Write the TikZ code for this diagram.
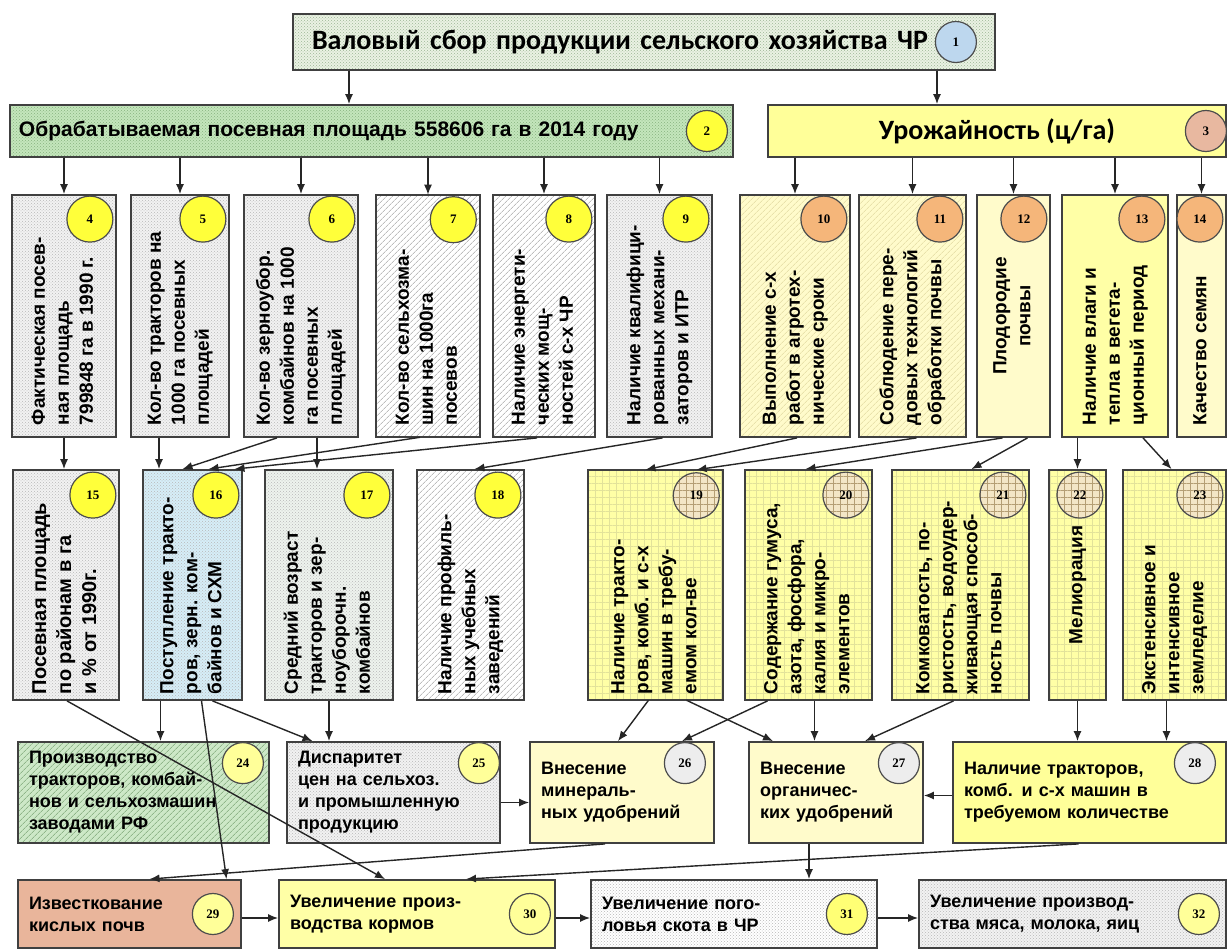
\documentclass[tikz,border=0pt]{standalone}
\usepackage{fontspec}
\setmainfont{Liberation Sans}
\newfontfamily\headfont{Carlito}
\newfontfamily\numfont{Liberation Serif}
\usetikzlibrary{arrows.meta,patterns,patterns.meta}
\definecolor{titlefill}{HTML}{EAF2E3}
\definecolor{titledots}{HTML}{9DB596}
\definecolor{areafill}{HTML}{C4E6BC}
\definecolor{areadots}{HTML}{86B27E}
\definecolor{yieldfill}{HTML}{FFFF99}
\definecolor{greyfill}{HTML}{F2F2F2}
\definecolor{bluefill}{HTML}{D6EEF8}
\definecolor{sagefill}{HTML}{EEF3EE}
\definecolor{creamfill}{HTML}{FFFBCB}
\definecolor{creamline}{HTML}{DCD49A}
\definecolor{lemonfill}{HTML}{FFFFA6}
\definecolor{lemonline}{HTML}{E2E29A}
\definecolor{mintfill}{HTML}{CDE8C7}
\definecolor{mintline}{HTML}{6E9A68}
\definecolor{salmonfill}{HTML}{E9B59B}
\definecolor{numblue}{HTML}{BDD7EE}
\definecolor{numyellow}{HTML}{FFFF3A}
\definecolor{numpale}{HTML}{FFFF99}
\definecolor{numsalmon}{HTML}{E8B8A0}
\definecolor{numorange}{HTML}{F5B67A}
\definecolor{numtan}{HTML}{F3E6C6}
\definecolor{numtanline}{HTML}{B49E74}
\definecolor{numgrey}{HTML}{EDEDED}
% text set bottom-to-top inside the tall boxes
\newcommand{\vtext}[3][l]{\rotatebox{90}{\makebox[#2][#1]{\begin{tabular}{@{}#1@{}}#3\end{tabular}}}}

\begin{document}
\begin{tikzpicture}[
  x=1pt, y=-1pt,
  box/.style={draw=black!75, line width=1.8pt, inner sep=4pt, font=\bfseries\fontsize{18}{22}\selectfont},
  tall/.style={box, font=\bfseries\fontsize{19}{24}\selectfont},
  flat/.style={box, align=left},
  num/.style={circle, draw=black!70, line width=1.2pt, minimum size=46pt, inner sep=0pt, font=\numfont\bfseries\fontsize{13}{13}\selectfont},
  smallnum/.style={num, minimum size=41pt},
  dotfill/.style={preaction={fill=#1}, pattern=crosshatch dots, pattern color=black!28},
  hatchfill/.style 2 args={preaction={fill=#1}, pattern={Lines[angle=45,distance=4pt,line width=.6pt]}, pattern color=#2},
  gridfill/.style 2 args={preaction={fill=#1}, pattern={Hatch[angle=0,distance=7pt,line width=.5pt]}, pattern color=#2},
  arr/.style={-{Latex[length=10pt,width=8pt]}, line width=1.4pt, draw=black!85}
]
  \fill[white] (0,0) rectangle (1229,952);
  \useasboundingbox (0,0) rectangle (1229,952);

  % top level
  \node[box, minimum width=702pt, minimum height=56pt, text width=664pt, align=left, dotfill=titlefill, pattern color=titledots, font=\headfont\bfseries\fontsize{28}{32}\selectfont] (b1) at (644,42) {Валовый сбор продукции сельского хозяйства ЧР};
  \node[box, minimum width=723pt, minimum height=52pt, text width=705pt, align=left, dotfill=areafill, pattern color=areadots, font=\bfseries\fontsize{21}{25}\selectfont] (b2) at (371.5,131) {Обрабатываемая посевная площадь 558606 га в 2014 году};
  \node[box, minimum width=458pt, minimum height=52pt, fill=yieldfill, font=\headfont\bfseries\fontsize{28}{32}\selectfont] (b3) at (997,131) {Урожайность (ц/га)};
  \node[smallnum, fill=numblue] (n1) at ([xshift=-40pt]b1.east) {1};
  \node[smallnum, fill=numyellow] (n2) at ([xshift=-27pt]b2.east) {2};
  \node[smallnum, fill=numsalmon] (n3) at ([xshift=-21pt]b3.east) {3};

  % factors of the sown area
  \node[tall, minimum width=104pt, minimum height=242pt, dotfill=greyfill] (b4) at (64,316) {\vtext{218pt}{Фактическая посев-\\ная площадь\\799848 га в 1990 г.}};
  \node[tall, minimum width=98pt, minimum height=242pt, dotfill=greyfill] (b5) at (180,316) {\vtext{218pt}{Кол-во тракторов на\\1000 га посевных\\площадей}};
  \node[tall, minimum width=114pt, minimum height=242pt, dotfill=greyfill] (b6) at (301,316) {\vtext{218pt}{Кол-во зерноубор.\\комбайнов на 1000\\га посевных\\площадей}};
  \node[tall, minimum width=104pt, minimum height=242pt, hatchfill={white}{black!40}] (b7) at (428,316) {\vtext{218pt}{Кол-во сельхозма-\\шин на 1000га\\посевов}};
  \node[tall, minimum width=102pt, minimum height=242pt, hatchfill={white}{black!40}] (b8) at (544,316) {\vtext{218pt}{Наличие энергети-\\ческих мощ-\\ностей с-х ЧР}};
  \node[tall, minimum width=105pt, minimum height=242pt, dotfill=greyfill] (b9) at (659.5,316) {\vtext{218pt}{Наличие квалифици-\\рованных механи-\\заторов и ИТР}};
  % factors of the yield
  \node[tall, minimum width=110pt, minimum height=242pt, hatchfill={creamfill}{creamline}] (b10) at (795,316) {\vtext{218pt}{Выполнение с-х\\работ в агротех-\\нические сроки}};
  \node[tall, minimum width=107pt, minimum height=242pt, hatchfill={creamfill}{creamline}] (b11) at (912.5,316) {\vtext{218pt}{Соблюдение пере-\\довых технологий\\обработки почвы}};
  \node[tall, minimum width=73pt, minimum height=242pt, fill=creamfill] (b12) at (1013.5,316) {\vtext[c]{150pt}{Плодородие\\почвы}};
  \node[tall, minimum width=106pt, minimum height=242pt, fill=lemonfill] (b13) at (1115,316) {\vtext{218pt}{Наличие влаги и\\тепла в вегета-\\ционный период}};
  \node[tall, minimum width=49pt, minimum height=242pt, fill=creamfill] (b14) at (1201.5,316) {\vtext{218pt}{Качество семян}};
  \node[num, fill=numyellow] (n4) at ([xshift=-27pt,yshift=-25pt]b4.north east) {4};
  \node[num, fill=numyellow] (n5) at ([xshift=-27pt,yshift=-25pt]b5.north east) {5};
  \node[num, fill=numyellow] (n6) at ([xshift=-27pt,yshift=-25pt]b6.north east) {6};
  \node[num, fill=numyellow] (n7) at ([xshift=-27pt,yshift=-25pt]b7.north east) {7};
  \node[num, fill=numyellow] (n8) at ([xshift=-27pt,yshift=-25pt]b8.north east) {8};
  \node[num, fill=numyellow] (n9) at ([xshift=-27pt,yshift=-25pt]b9.north east) {9};
  \node[num, fill=numorange] (n10) at ([xshift=-27pt,yshift=-25pt]b10.north east) {10};
  \node[num, fill=numorange] (n11) at ([xshift=-27pt,yshift=-25pt]b11.north east) {11};
  \node[num, fill=numorange] (n12) at ([xshift=-27pt,yshift=-25pt]b12.north east) {12};
  \node[num, fill=numorange] (n13) at ([xshift=-27pt,yshift=-25pt]b13.north east) {13};
  \node[num, fill=numorange] (n14) at ([xshift=-27pt,yshift=-25pt]b14.north east) {14};

  % second level
  \node[tall, minimum width=106pt, minimum height=230pt, dotfill=greyfill, font=\bfseries\fontsize{20}{25}\selectfont] (b15) at (66,585) {\vtext{218pt}{Посевная площадь\\по районам в га\\и \% от 1990г.}};
  \node[tall, minimum width=99pt, minimum height=230pt, dotfill=bluefill] (b16) at (192.5,585) {\vtext{218pt}{Поступление тракто-\\ров, зерн. ком-\\байнов и СХМ}};
  \node[tall, minimum width=128pt, minimum height=230pt, dotfill=sagefill] (b17) at (329,585) {\vtext{218pt}{Средний возраст\\тракторов и зер-\\ноуборочн.\\комбайнов}};
  \node[tall, minimum width=107pt, minimum height=230pt, hatchfill={white}{black!40}] (b18) at (470.5,585) {\vtext{218pt}{Наличие профиль-\\ных учебных\\заведений}};
  \node[tall, minimum width=135pt, minimum height=230pt, gridfill={lemonfill}{lemonline}] (b19) at (655.5,585) {\vtext{218pt}{Наличие тракто-\\ров, комб. и с-х\\машин в требу-\\емом кол-ве}};
  \node[tall, minimum width=127pt, minimum height=230pt, gridfill={lemonfill}{lemonline}] (b20) at (808.5,585) {\vtext{218pt}{Содержание гумуса,\\азота, фосфора,\\калия и микро-\\элементов}};
  \node[tall, minimum width=137pt, minimum height=230pt, gridfill={lemonfill}{lemonline}] (b21) at (960.5,585) {\vtext{218pt}{Комковатость, по-\\ристость, водоудер-\\живающая способ-\\ность почвы}};
  \node[tall, minimum width=57pt, minimum height=230pt, gridfill={lemonfill}{lemonline}] (b22) at (1077.5,585) {\vtext[c]{150pt}{Мелиорация}};
  \node[tall, minimum width=103pt, minimum height=230pt, gridfill={lemonfill}{lemonline}] (b23) at (1174.5,585) {\vtext{218pt}{Экстенсивное и\\интенсивное\\земледелие}};
  \node[num, fill=numyellow] (n15) at ([xshift=-27pt,yshift=-26pt]b15.north east) {15};
  \node[num, fill=numyellow] (n16) at ([xshift=-27pt,yshift=-26pt]b16.north east) {16};
  \node[num, fill=numyellow] (n17) at ([xshift=-27pt,yshift=-26pt]b17.north east) {17};
  \node[num, fill=numyellow] (n18) at ([xshift=-27pt,yshift=-26pt]b18.north east) {18};
  \node[num, gridfill={numtan}{numtanline}] (n19) at ([xshift=-27pt,yshift=-26pt]b19.north east) {19};
  \node[num, gridfill={numtan}{numtanline}] (n20) at ([xshift=-27pt,yshift=-26pt]b20.north east) {20};
  \node[num, gridfill={numtan}{numtanline}] (n21) at ([xshift=-27pt,yshift=-26pt]b21.north east) {21};
  \node[num, gridfill={numtan}{numtanline}] (n22) at ([xshift=-27pt,yshift=-26pt]b22.north east) {22};
  \node[num, gridfill={numtan}{numtanline}] (n23) at ([xshift=-27pt,yshift=-26pt]b23.north east) {23};

  % measures
  \node[flat, minimum width=251pt, minimum height=101pt, text width=229pt, hatchfill={mintfill}{mintline}] (b24) at (143.5,792.5) {Производство\\тракторов, комбай-\\нов и сельхозмашин\\заводами РФ};
  \node[flat, minimum width=213pt, minimum height=101pt, text width=191pt, dotfill=greyfill] (b25) at (393.5,792.5) {Диспаритет\\цен на сельхоз.\\и промышленную\\продукцию};
  \node[flat, minimum width=184pt, minimum height=101pt, text width=162pt, fill=creamfill] (b26) at (622,792.5) {Внесение\\минераль-\\ных удобрений};
  \node[flat, minimum width=174pt, minimum height=101pt, text width=152pt, fill=creamfill] (b27) at (836,792.5) {Внесение\\органичес-\\ких удобрений};
  \node[flat, minimum width=273pt, minimum height=101pt, text width=251pt, fill=yieldfill] (b28) at (1089.5,792.5) {Наличие тракторов,\\комб. и с-х машин в\\требуемом количестве};
  \node[smallnum, fill=numpale] (n24) at ([xshift=-27pt,yshift=-22pt]b24.north east) {24};
  \node[smallnum, fill=numpale] (n25) at ([xshift=-22pt,yshift=-22pt]b25.north east) {25};
  \node[smallnum, fill=numgrey] (n26) at ([xshift=-30pt,yshift=-22pt]b26.north east) {26};
  \node[smallnum, fill=numgrey] (n27) at ([xshift=-25pt,yshift=-22pt]b27.north east) {27};
  \node[smallnum, fill=numgrey] (n28) at ([xshift=-32pt,yshift=-22pt]b28.north east) {28};

  % results
  \node[flat, minimum width=223pt, minimum height=68pt, text width=201pt, fill=salmonfill] (b29) at (129.5,914) {Известкование\\кислых почв};
  \node[flat, minimum width=276pt, minimum height=68pt, text width=254pt, fill=lemonfill] (b30) at (417,914) {Увеличение произ-\\водства кормов};
  \node[flat, minimum width=286pt, minimum height=68pt, text width=264pt, dotfill=white] (b31) at (734,914) {Увеличение пого-\\ловья скота в ЧР};
  \node[flat, minimum width=307pt, minimum height=68pt, text width=285pt, dotfill=greyfill] (b32) at (1072.5,914) {Увеличение производ-\\ства мяса, молока, яиц};
  \node[smallnum, fill=numpale] (n29) at ([xshift=-29pt]b29.east) {29};
  \node[smallnum, fill=numpale] (n30) at ([xshift=-26pt]b30.east) {30};
  \node[smallnum, fill=numyellow!70] (n31) at ([xshift=-31pt]b31.east) {31};
  \node[smallnum, fill=numpale] (n32) at ([xshift=-28pt]b32.east) {32};

  % links between the levels
  \draw[arr] ([xshift=-295pt]b1.south) -- ([xshift=-295pt]b1.south |- b2.north);
  \draw[arr] ([xshift=293pt]b1.south) -- ([xshift=293pt]b1.south |- b3.north);

  \draw[arr] (b2.south -| b4) -- (b4);
  \draw[arr] (b2.south -| b5) -- (b5);
  \draw[arr] (b2.south -| b6) -- (b6);
  \draw[arr] (b2.south -| b7) -- (b7);
  \draw[arr] (b2.south -| b8) -- (b8);
  \draw[arr] (b2.south -| b9) -- (b9);
  \draw[arr] (b3.south -| b10) -- (b10);
  \draw[arr] (b3.south -| b11) -- (b11);
  \draw[arr] (b3.south -| b12) -- (b12);
  \draw[arr] (b3.south -| b13) -- (b13);
  \draw[arr] (b3.south -| b14) -- (b14);

  \draw[arr] (b4) -- (b4 |- b15.north);
  \draw[arr] ([xshift=-21pt]b5.south) -- ([xshift=-21pt]b5.south |- b16.north);
  \draw[arr] ([xshift=-24pt]b6.south) -- ([xshift=-10pt]b16.north);
  \draw[arr] ([xshift=16pt]b6.south) -- ([xshift=16pt]b6.south |- b17.north);
  \draw[arr] ([xshift=-8pt]b7.south) -- ([xshift=16pt]b16.north);
  \draw[arr] ([xshift=-7pt]b8.south) -- ([xshift=42pt]b16.north);
  \draw[arr] ([xshift=3pt]b9.south) -- ([xshift=4pt]b18.north);
  \draw[arr] ([xshift=2pt]b10.south) -- ([xshift=-10pt]b19.north);
  \draw[arr] ([xshift=4pt]b11.south) -- ([xshift=41pt]b19.north);
  \draw[arr] ([xshift=-11pt]b12.south) -- ([xshift=-3pt]b20.north);
  \draw[arr] ([xshift=14pt]b12.south) -- ([xshift=11pt]b21.north);
  \draw[arr] (b13.south -| b22) -- (b22);
  \draw[arr] ([xshift=28pt]b13.south) -- ([xshift=-3pt]b23.north);

  \draw[arr] ([xshift=1pt]b15.south) -- ([xshift=-32pt]b30.north);
  \draw[arr] ([xshift=-32pt]b16.south) -- ([xshift=-32pt]b16.south |- b24.north);
  \draw[arr] ([xshift=9pt]b16.south) -- ([xshift=97pt]b29.north);
  \draw[arr] ([xshift=20pt]b16.south) -- ([xshift=-81pt]b25.north);
  \draw[arr] (b17) -- (b17 |- b25.north);
  \draw[arr] ([xshift=-7pt]b19.south) -- ([xshift=-4pt]b26.north);
  \draw[arr] ([xshift=31pt]b19.south) -- ([xshift=-63pt]b27.north);
  \draw[arr] ([xshift=-41pt]b20.south) -- ([xshift=60pt]b26.north);
  \draw[arr] ([xshift=6pt]b20.south) -- ([xshift=6pt]b20.south |- b27.north);
  \draw[arr] ([xshift=-7pt]b21.south) -- ([xshift=29pt]b27.north);
  \draw[arr] (b22) -- (b22 |- b28.north);
  \draw[arr] ([xshift=-8pt]b23.south) -- ([xshift=-8pt]b23.south |- b28.north);

  \draw[arr] ([yshift=-10pt]b25.east) -- ([yshift=-10pt]b25.east -| b26.west);
  \draw[arr] ([yshift=-3pt]b28.west) -- ([yshift=-3pt]b28.west -| b27.east);

  \draw[arr] ([xshift=-17pt]b26.south) -- ([xshift=20pt]b29.north);
  \draw[arr] ([xshift=-11pt]b28.south) -- ([xshift=49pt]b30.north);
  \draw[arr] ([xshift=-27pt]b27.south) -- ([xshift=-27pt]b27.south |- b31.north);

  \draw[arr] ([yshift=-4pt]b29.east) -- ([yshift=-4pt]b29.east -| b30.west);
  \draw[arr] ([yshift=-4pt]b30.east) -- ([yshift=-4pt]b30.east -| b31.west);
  \draw[arr] ([yshift=-4pt]b31.east) -- ([yshift=-4pt]b31.east -| b32.west);
\end{tikzpicture}
\end{document}
